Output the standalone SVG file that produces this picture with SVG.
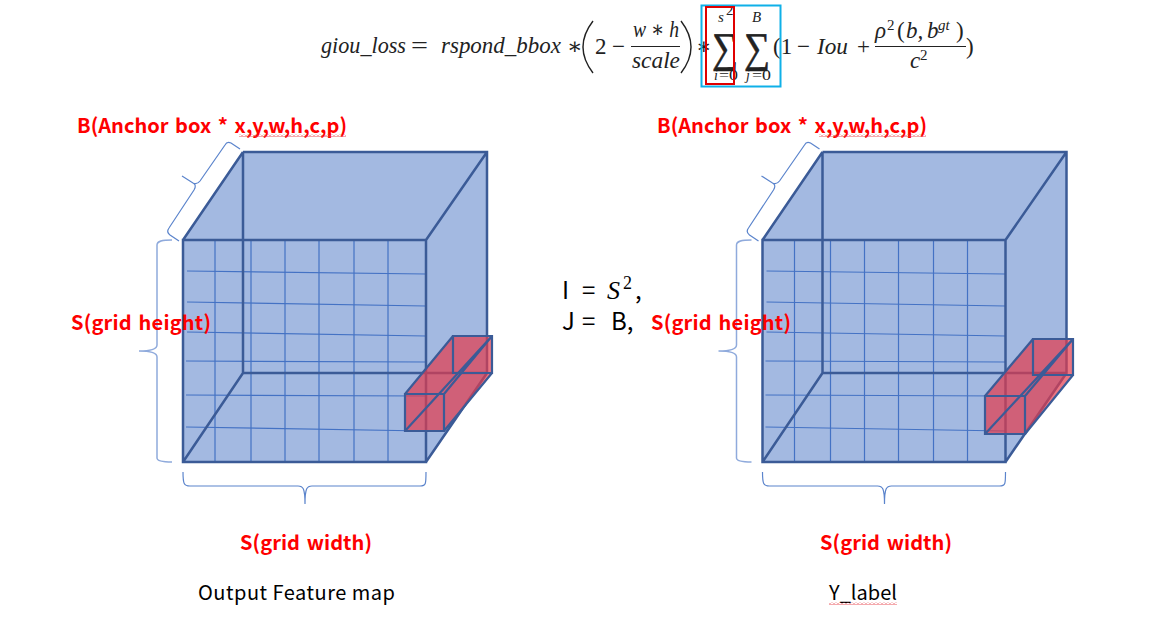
<svg xmlns="http://www.w3.org/2000/svg" xmlns:xlink="http://www.w3.org/1999/xlink" width="1173" height="639" viewBox="0 0 1173 639">
<style>
.m{font-family:"Liberation Serif","DejaVu Serif",serif;font-style:italic;font-size:23px;fill:#222}
.u{font-family:"Liberation Serif","DejaVu Serif",serif;font-size:23px;fill:#222}
.s{font-size:15px}
.sm{font-size:14px}
.lab{font-family:"Noto Sans CJK KR","Noto Sans",sans-serif;font-weight:700;font-size:20px;fill:#fe0000;word-spacing:2px}
.blk{font-family:"Noto Sans CJK KR","Noto Sans",sans-serif;font-size:20px;fill:#000}
.edge{fill:none;stroke:#3b5b97;stroke-width:2.5}
.grid{fill:none;stroke:#4472c4;stroke-width:1.2}
.face{fill:#a3b9e1}
.br{fill:none;stroke:#5b84cc;stroke-width:1.2}
.brl{fill:none;stroke:#8faadc;stroke-width:1.5}
.red{fill:#e23a4c;fill-opacity:.7}
.rede{fill:none;stroke:#3b5b97;stroke-width:2.2}
.sig{font-family:"Liberation Serif",serif;font-size:42px;fill:#222;stroke:#222;stroke-width:.6}
</style>
<defs>
<pattern id="wavy" width="4" height="3" patternUnits="userSpaceOnUse">
<path d="M0 2.5L2 .5L4 2.5" fill="none" stroke="#e8404a" stroke-width=".9"/>
</pattern>
<g id="cube">
<polygon class="face" points="183,240 243,152 487,152 487,373 426,462 183,462"/>
<path class="grid" d="M215 241V462M251 241V462M285 241V462M319 241V462M354 241V462M388 241V462"/>
<path class="grid" d="M187 271L426 274M187 302L426 306M187 332L426 336M186 361L426 362M186 395L426 396M186 427L426 431"/>
<path class="edge" d="M183 240H426V462H183ZM243 152H487V373L426 462M243 152V373H487M183 240L243 152M426 240L487 152M183 462L243 373"/>
<path class="brl" d="M172 240C162 240 157 241 157 245V345C157 349 150 351 139 351C150 351 157 353 157 357V458C157 461 162 462 172 462"/>
<path class="br" d="M183 472C183 484 184 486 190 486H298C303 486 305 488 305 504C305 488 307 486 312 486H420C426 486 426 484 426 472"/>
<path class="br" d="M179 241L170 235Q166 232 169 228L194 190Q197 185 193 183L182 176L193 183Q197 185 200 181L225 145Q227 141 231 143L240 149"/>
</g>
</defs>
<rect width="1173" height="639" fill="#fff"/>

<g id="formula">
<text class="m" x="321" y="53" textLength="85" lengthAdjust="spacingAndGlyphs">giou_loss</text>
<text class="u" x="411" y="53" textLength="17" lengthAdjust="spacingAndGlyphs">=</text>
<text class="m" x="441" y="53" textLength="120" lengthAdjust="spacingAndGlyphs">rspond_bbox</text>
<text class="u" x="567" y="54" fill="#555">∗</text>
<path d="M593 21Q573 47 593 73" fill="none" stroke="#222" stroke-width="1.4"/>
<text class="u" x="595" y="54">2</text>
<text class="u" x="612" y="54">−</text>
<text class="m" x="633" y="37" textLength="46" lengthAdjust="spacingAndGlyphs">w ∗ h</text>
<line x1="631" y1="46.500" x2="680" y2="46.500" stroke="#222" stroke-width="1.200"/>
<text class="m" x="632" y="68" textLength="48" lengthAdjust="spacingAndGlyphs">scale</text>
<path d="M681 21Q701 47 681 73" fill="none" stroke="#222" stroke-width="1.400"/>
<text class="u" x="696" y="54">∗</text>
<text class="m s" x="718" y="22">s</text>
<text class="u s" x="726" y="15">2</text>
<text class="sig" x="712" y="62" textLength="26" lengthAdjust="spacingAndGlyphs">∑</text>
<text class="m sm" x="714" y="80">i</text><text class="u sm" x="719" y="80" textLength="19" lengthAdjust="spacingAndGlyphs">=0</text>
<text class="m s" x="752" y="22">B</text>
<text class="sig" x="744" y="62" textLength="26" lengthAdjust="spacingAndGlyphs">∑</text>
<text class="m sm" x="746" y="80">j</text><text class="u sm" x="752" y="80" textLength="19" lengthAdjust="spacingAndGlyphs">=0</text>
<text class="u" x="773" y="54">(1</text>
<text class="u" x="797" y="54">−</text>
<text class="m" x="817" y="54" textLength="31" lengthAdjust="spacingAndGlyphs">Iou</text>
<text class="u" x="857" y="54">+</text>
<text class="m" x="875" y="38">ρ</text>
<text class="u s" x="887" y="30">2</text>
<text class="u" x="897" y="38">(</text>
<text class="m" x="906" y="38">b,</text>
<text class="m" x="927" y="38">b</text>
<text class="m s" x="938" y="30">gt</text>
<text class="u" x="956" y="38">)</text>
<line x1="875" y1="46.500" x2="966" y2="46.500" stroke="#222" stroke-width="1.200"/>
<text class="m" x="910" y="68">c</text>
<text class="u s" x="920" y="60">2</text>
<text class="u" x="966" y="54">)</text>
<rect x="701.500" y="5.500" width="79" height="81" fill="none" stroke="#0fb0e8" stroke-width="2"/>
<rect x="706" y="7" width="28" height="77" fill="none" stroke="#e00000" stroke-width="2"/>
</g>

<g id="cube-left">
<use href="#cube" xlink:href="#cube"/>
<polygon class="red" points="405,394 453,336 492,336 492,373 444,431 405,431"/>
<path class="rede" d="M405 394H444V431H405ZM453 336H492V373H453ZM405 394L453 336M444 394L492 336M444 431L492 373M405 431L492 336"/>
<text class="lab" x="77" y="133" textLength="270" lengthAdjust="spacing">B(Anchor box * x,y,w,h,c,p)</text>
<rect x="239" y="134" width="107" height="3" fill="url(#wavy)"/>
<text class="lab" x="71" y="330" textLength="140" lengthAdjust="spacing">S(grid height)</text>
<text class="lab" x="240" y="550" textLength="132" lengthAdjust="spacing">S(grid width)</text>
<text class="blk" x="198" y="600" textLength="197" lengthAdjust="spacing">Output Feature map</text>
</g>

<g id="cube-right">
<use href="#cube" xlink:href="#cube" x="579.500"/>
<polygon class="red" points="985,396 1033,339 1073,339 1073,375 1025,434 985,434"/>
<path class="rede" d="M985 396H1025V434H985ZM1033 339H1073V375H1033ZM985 396L1033 339M1025 396L1073 339M1025 434L1073 375M985 434L1073 339"/>
<text class="lab" x="657" y="133" textLength="270" lengthAdjust="spacing">B(Anchor box * x,y,w,h,c,p)</text>
<rect x="819" y="134" width="107" height="3" fill="url(#wavy)"/>
<text class="lab" x="651" y="330" textLength="140" lengthAdjust="spacing">S(grid height)</text>
<text class="lab" x="820" y="550" textLength="132" lengthAdjust="spacing">S(grid width)</text>
<text class="blk" x="829" y="600" textLength="68" lengthAdjust="spacing">Y_label</text>
<rect x="829" y="602" width="68" height="3" fill="url(#wavy)"/>
</g>

<g id="ij-note">
<text class="blk" x="562" y="299" style="font-size:24px">I</text>
<text class="blk" x="582" y="299" style="font-size:24px">=</text>
<text class="m" x="607" y="299" style="font-size:26px;fill:#000">S</text>
<text class="u" x="623" y="289" style="font-size:18px;fill:#000">2</text>
<text class="blk" x="635" y="299" style="font-size:24px">,</text>
<text class="blk" x="562" y="330" style="font-size:24px">J</text>
<text class="blk" x="582" y="330" style="font-size:24px">=</text>
<text class="blk" x="611" y="330" style="font-size:24px">B,</text>
</g>
</svg>
